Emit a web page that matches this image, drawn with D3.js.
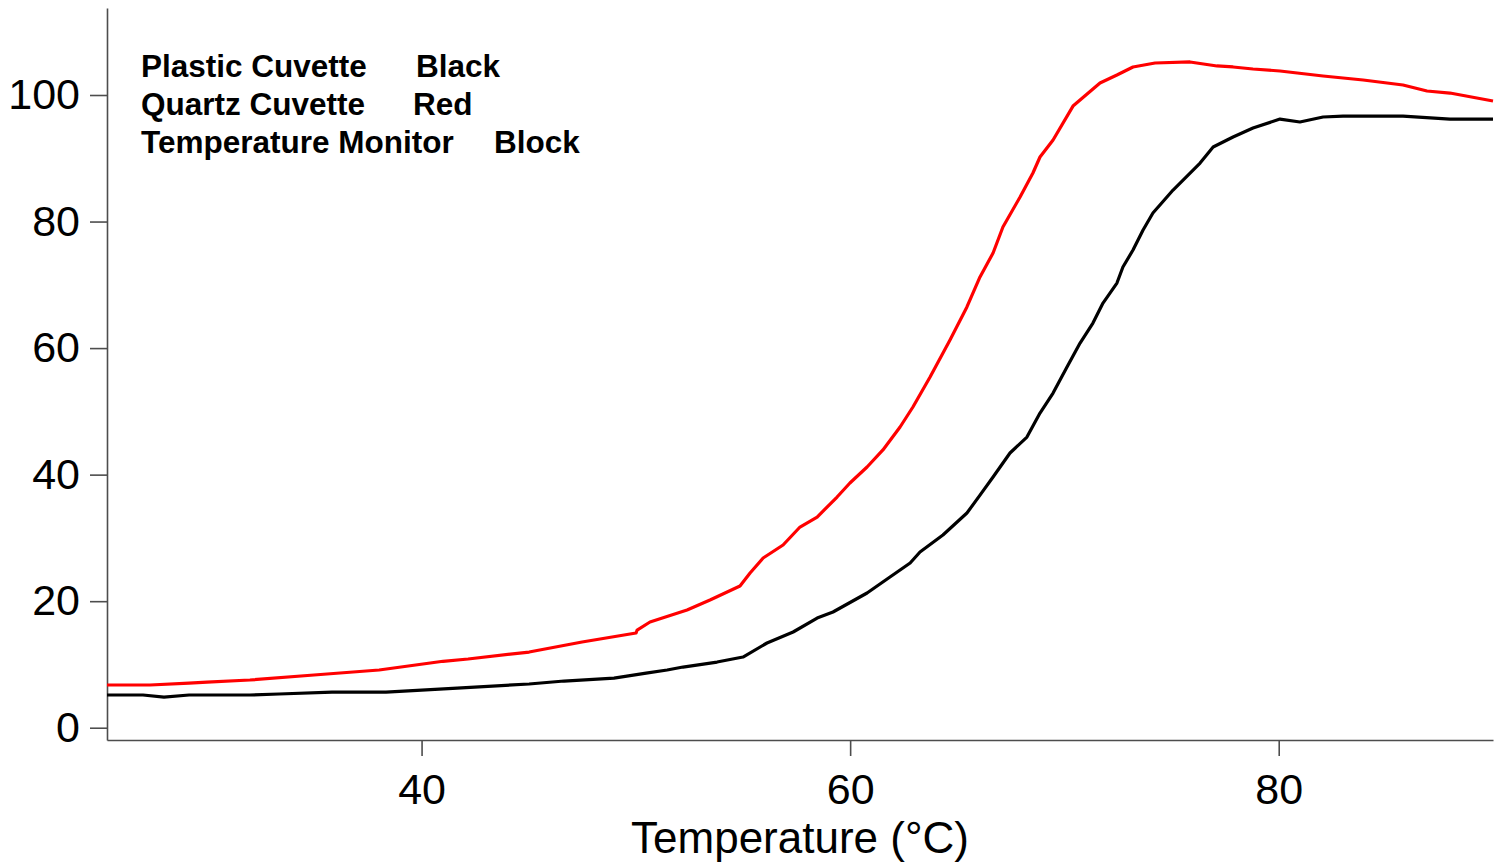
<!DOCTYPE html>
<html>
<head>
<meta charset="utf-8">
<script src="https://cdn.jsdelivr.net/npm/d3@7"></script>
<style>
  body { margin: 0; background: #fff; }
  text { font-family: "Liberation Sans", Arial, sans-serif; fill: #000; }
  .axis path, .axis line { stroke: #4d4d4d; stroke-width: 1.6; }
  .axis text { font-size: 43px; }
  .legend text { font-size: 31.5px; font-weight: bold; }
</style>
</head>
<body>
<svg id="chart" width="1494" height="863"></svg>
<script>
// quartz cuvette (red)
const quartzTemp = [25.32, 27.33, 29.15, 29.99, 31.99, 34.98, 38.02, 41.0, 42.17, 45.02, 47.49, 50.01, 50.06,
  50.66, 52.39, 53.46, 54.86, 55.33, 55.94, 56.87, 57.66, 58.46, 59.39, 59.99, 60.79, 61.53, 62.33, 62.93,
  63.73, 64.66, 65.45, 66.06, 66.67, 67.13, 67.93, 68.53, 68.86, 69.47, 70.4, 71.66, 72.45, 73.2, 74.23,
  75.86, 77.12, 77.87, 78.8, 80.06, 82.07, 83.94, 85.8, 86.92, 87.99, 90.0];
const quartzSignal = [6.75, 6.75, 7.06, 7.22, 7.54, 8.33, 9.12, 10.5, 10.86, 11.96, 13.55, 14.97, 15.44,
  16.71, 18.6, 20.18, 22.4, 24.45, 26.82, 28.88, 31.72, 33.3, 36.46, 38.68, 41.21, 43.9, 47.53, 50.69,
  55.43, 61.28, 66.5, 71.24, 75.03, 79.14, 83.88, 87.67, 90.2, 92.89, 98.25, 101.9, 103.16, 104.43, 105.06,
  105.22, 104.59, 104.43, 104.11, 103.79, 103.0, 102.37, 101.58, 100.63, 100.31, 99.05];

// plastic cuvette (black)
const plasticTemp = [25.32, 27.0, 27.98, 29.15, 31.99, 33.35, 35.82, 38.34, 41.66, 45.02, 46.65, 48.98, 50.48,
  51.46, 52.2, 53.79, 55.0, 56.12, 57.34, 58.46, 59.2, 60.79, 61.86, 62.8, 63.26, 64.33, 65.45, 66.06,
  66.67, 67.46, 68.25, 68.86, 69.47, 70.12, 70.73, 71.33, 71.8, 72.45, 72.73, 73.2, 73.67, 74.13, 75.07,
  76.33, 76.94, 77.87, 78.8, 80.06, 80.99, 82.07, 83.0, 85.8, 87.99, 90.0];
const plasticSignal = [5.17, 5.17, 4.85, 5.17, 5.17, 5.33, 5.64, 5.64, 6.27, 6.91, 7.38, 7.85, 8.64,
  9.12, 9.59, 10.38, 11.17, 13.39, 15.13, 17.34, 18.29, 21.29, 23.82, 26.03, 27.77, 30.46, 33.93, 36.77,
  39.62, 43.42, 45.94, 49.74, 52.9, 57.01, 60.8, 63.96, 67.12, 70.28, 72.81, 75.5, 78.66, 81.35, 84.98,
  89.25, 91.78, 93.36, 94.78, 96.2, 95.73, 96.52, 96.67, 96.67, 96.2, 96.2];

const xTicks = [40, 60, 80];
const yTicks = [0, 20, 40, 60, 80, 100];
const legendNames = ['Plastic Cuvette', 'Quartz Cuvette', 'Temperature Monitor'];
const legendValues = ['Black', 'Red', 'Block'];

const svg = d3.select('#chart');
const plot = { left: 107, right: 1493, top: 8, bottom: 740 };

const x = d3.scaleLinear().domain([25.32, 90]).range([plot.left, plot.right]);
const y = d3.scaleLinear().domain([-1.94, 113.75]).range([plot.bottom, plot.top]);

svg.append('g')
  .attr('class', 'axis')
  .attr('transform', 'translate(0,' + plot.bottom + ')')
  .call(d3.axisBottom(x).tickValues(xTicks).tickSize(16).tickSizeOuter(0).tickPadding(17));

svg.append('g')
  .attr('class', 'axis')
  .attr('transform', 'translate(' + plot.left + ',0)')
  .call(d3.axisLeft(y).tickValues(yTicks).tickSize(17).tickSizeOuter(0).tickPadding(10));

svg.selectAll('.axis').attr('font-family', null).attr('font-size', null);

svg.append('text')
  .attr('x', (plot.left + plot.right) / 2)
  .attr('y', 853)
  .attr('text-anchor', 'middle')
  .style('font-size', '44px')
  .text('Temperature (°C)');

const line = d3.line()
  .x(d => x(d[0]))
  .y(d => y(d[1]));

const series = [
  { temp: plasticTemp, signal: plasticSignal, color: '#000000' },
  { temp: quartzTemp, signal: quartzSignal, color: '#ff0000' }
];

series.forEach(s => {
  svg.append('path')
    .datum(d3.zip(s.temp, s.signal))
    .attr('fill', 'none')
    .attr('stroke', s.color)
    .attr('stroke-width', 3.2)
    .attr('stroke-linejoin', 'round')
    .attr('d', line);
});

// legend: name column, then colour column
const legend = svg.append('g').attr('class', 'legend');
const valueX = [416, 413, 494];
legendNames.forEach((name, i) => {
  legend.append('text').attr('x', 141).attr('y', 77 + i * 38).text(name);
  legend.append('text').attr('x', valueX[i]).attr('y', 77 + i * 38).text(legendValues[i]);
});
</script>
</body>
</html>
